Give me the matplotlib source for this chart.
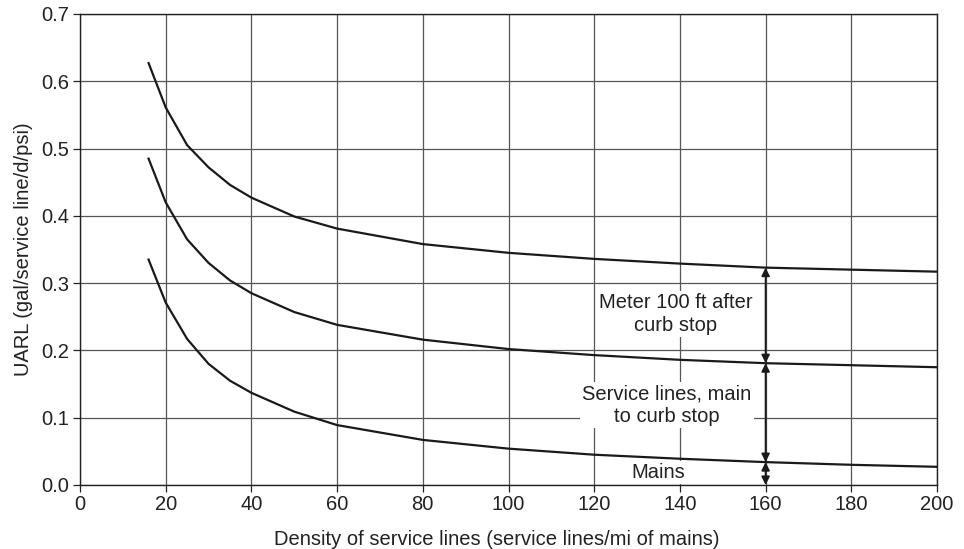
import matplotlib
matplotlib.use("Agg")
import matplotlib.pyplot as plt

plt.rcParams['font.family'] = ['Liberation Sans', 'DejaVu Sans']

density = [16, 20, 25, 30, 35, 40, 50, 60, 80, 100, 120, 140, 160, 180, 200]
meter_100ft = [0.627, 0.561, 0.505, 0.472, 0.446, 0.427, 0.399, 0.381, 0.358, 0.345, 0.336, 0.329, 0.323, 0.320, 0.317]
service_lines = [0.485, 0.420, 0.365, 0.330, 0.304, 0.285, 0.257, 0.238, 0.216, 0.202, 0.193, 0.186, 0.181, 0.178, 0.175]
mains = [0.335, 0.271, 0.217, 0.180, 0.155, 0.137, 0.109, 0.089, 0.067, 0.054, 0.045, 0.039, 0.034, 0.030, 0.027]

arrow_x = 160
labels = ["Meter 100 ft after\ncurb stop", "Service lines, main\nto curb stop", "Mains"]
label_pos = [(139, 0.254), (137, 0.119), (135, 0.018)]

fig = plt.figure(figsize=(9.64, 5.49), dpi=100)
ax = fig.add_axes([0.083, 0.1166, 0.889, 0.858])

for ys in (meter_100ft, service_lines, mains):
    ax.plot(density, ys, color='#1a1a1a', lw=1.6, zorder=3)

ax.set_xlim(0, 200)
ax.set_ylim(0, 0.7)
ax.set_xticks(range(0, 201, 20))
ax.set_yticks([i / 10 for i in range(8)])
ax.set_yticklabels([f"{i/10:.1f}" for i in range(8)])
ax.grid(True, color='#555555', lw=0.9)
ax.set_axisbelow(True)
for s in ax.spines.values():
    s.set_color('#222222')
    s.set_linewidth(1.0)
ax.tick_params(direction='out', length=5, width=0.9, labelsize=14.5, colors='#222222', pad=2.5)

ax.set_xlabel("Density of service lines (service lines/mi of mains)", fontsize=14.5,
              color='#222222')
ax.xaxis.set_label_coords(0.486, -0.095)
ax.set_ylabel("UARL (gal/service line/d/psi)", fontsize=14.5, color='#222222', labelpad=6)

i160 = density.index(arrow_x)
levels = [meter_100ft[i160], service_lines[i160], mains[i160], 0.0]
for top, bot in zip(levels[:-1], levels[1:]):
    ax.annotate("", xy=(arrow_x, bot), xytext=(arrow_x, top),
                arrowprops=dict(arrowstyle='<|-|>', color='#1a1a1a', lw=1.3,
                                mutation_scale=12, shrinkA=0, shrinkB=0), zorder=4)

for txt, (x, y) in zip(labels, label_pos):
    ax.text(x, y, txt, ha='center', va='center', fontsize=14.5, color='#222222',
            linespacing=1.25,
            bbox=dict(facecolor='white', edgecolor='none', pad=1.5), zorder=2)

fig.savefig("out.png", dpi=100)
